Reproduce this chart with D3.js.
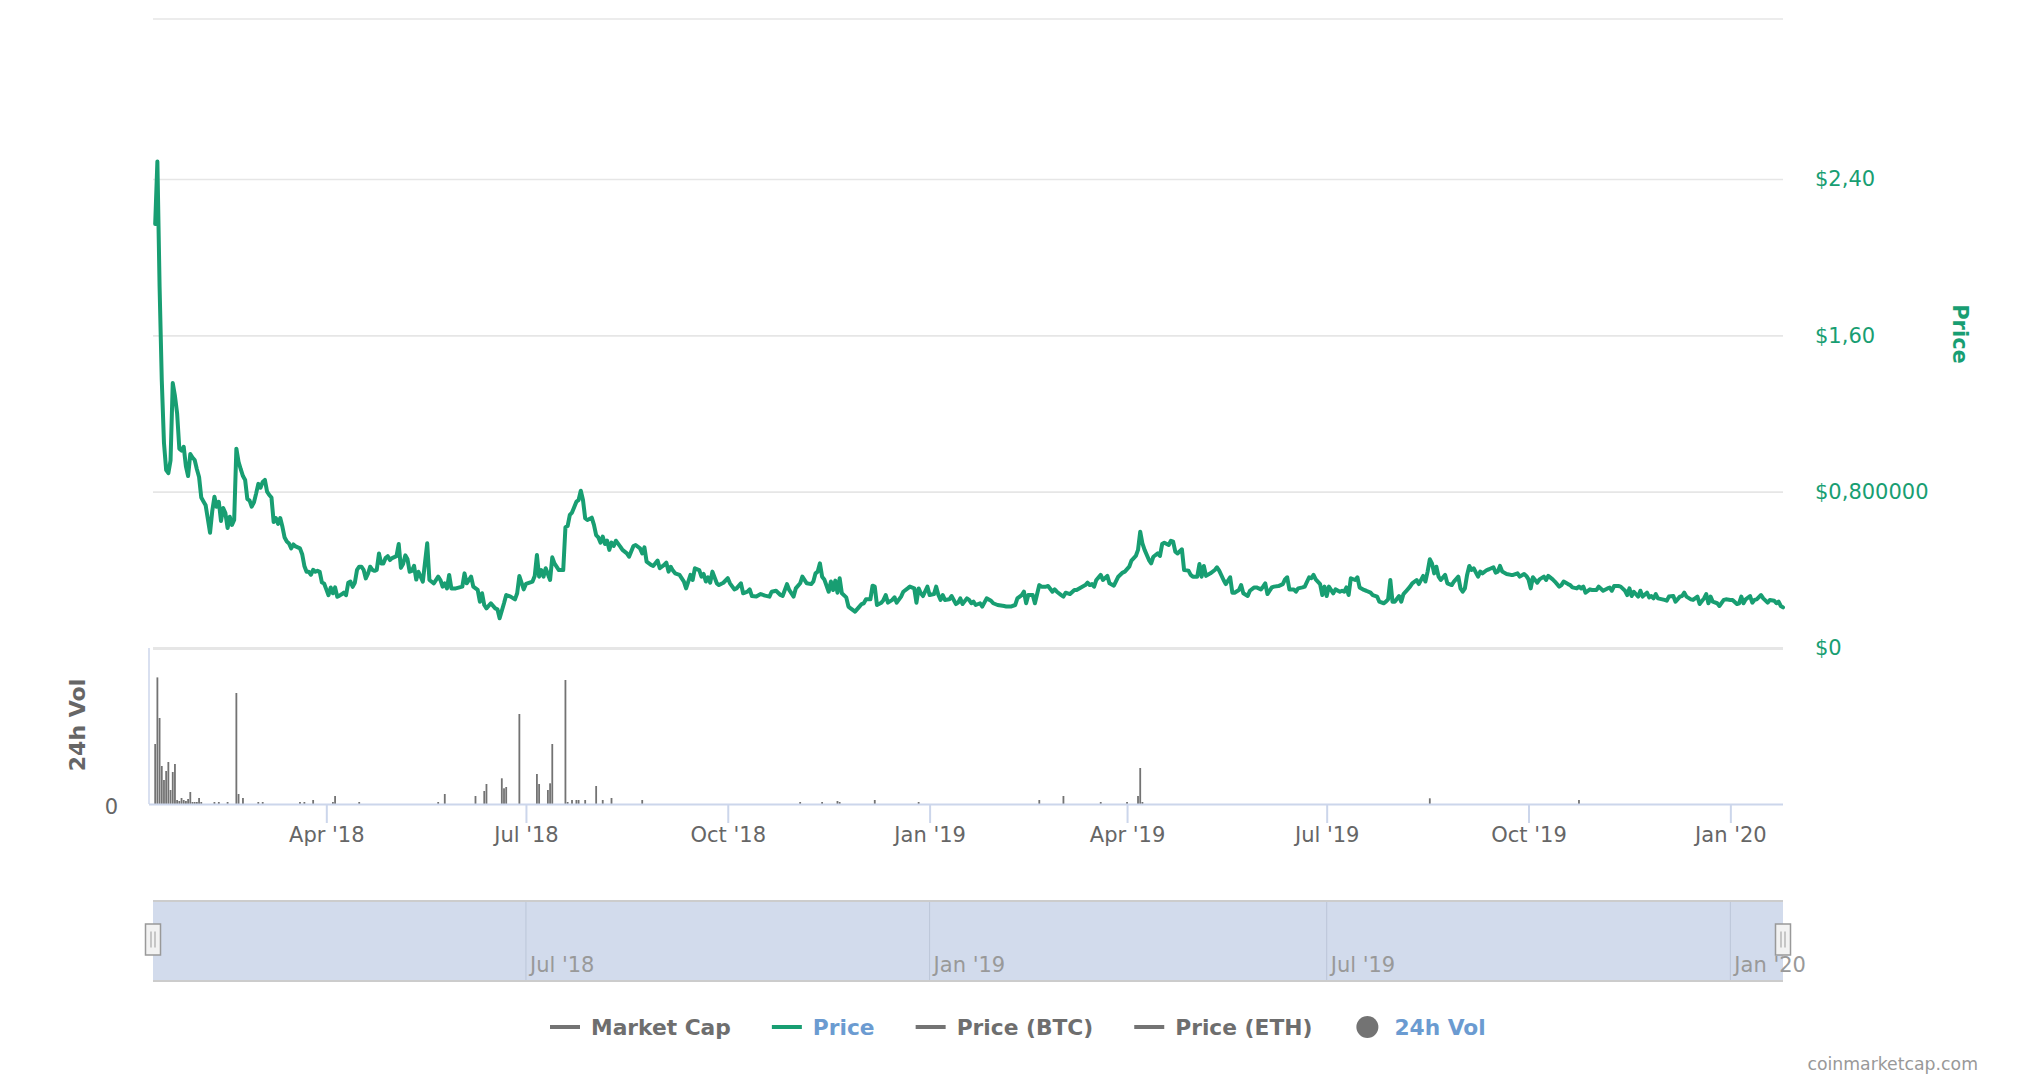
<!DOCTYPE html>
<html><head><meta charset="utf-8">
<script src="https://cdn.jsdelivr.net/npm/d3@7/dist/d3.min.js"></script>
<style>body{margin:0;background:#fff}svg{display:block}</style>
</head><body>
<svg id="c" width="2020" height="1088"></svg>
<script>
// ---------- DATA ----------
const startDate = "2018-01-12";   // day 0 of the series (left edge of the plot)
const endDate = "2020-01-25";     // right edge of the plot
// Price (USD): days since startDate, and price
const priceDay = [1,2,3,4,5,6,7,8,9,10,11,12,13,14,15,16,17,18,19,20,21,22,23,24,25,26,27,28,29,30,31,32,33,34,35,36,37,38,39,40,41,42,43,44,45,46,47,48,49,50,51,52,53,54,55,56,57,58,59,60,61,62,63,64,65,66,67,68,69,70,71,72,73,74,75,76,77,78,79,80,81,82,83,84,85,86,87,88,89,90,91,92,93,94,95,96,97,98,99,100,101,102,103,104,105,106,107,108,109,110,111,112,113,114,115,116,117,118,119,120,121,
123,125,126,128,130,131,132,133,134,135,136,138,141,142,143,145,146,148,149,150,151,152,154,156,157,158,160,161,163,165,166,167,169,170,173,174,175,176,177,178,179,181,182,183,185,187,188,189,190,191,193,194,195,196,197,198,200,201,202,203,204,205,206,207,208,209,210,211,213,214,216,217,219,220,222,223,224,225,227,228,230,231,233,234,235,236,237,238,240,242,243,245,246,247,249,250,251,252,253,254,255,257,258,260,262,263,265,266,268,269,271,272,273,275,
277,279,281,282,284,286,287,289,290,292,293,295,296,298,300,301,302,303,304,305,306,308,309,310,311,312,313,314,316,317,318,320,322,323,324,325,327,328,329,330,332,333,334,335,337,338,339,341,342,344,345,347,348,349,350,351,353,354,356,357,358,359,360,361,363,364,366,367,368,369,371,372,373,374,375,377,378,380,382,383,385,388,389,391,393,394,396,397,398,399,401,402,404,405,407,408,410,411,412,414,415,416,418,420,421,423,425,426,427,428,429,430,
432,433,435,436,438,440,442,443,445,446,448,449,450,451,452,454,455,456,458,459,460,461,463,464,465,466,467,469,470,472,473,474,476,477,478,479,480,482,484,485,486,488,489,491,492,493,495,496,497,499,500,502,503,505,506,507,508,510,511,513,515,516,517,518,520,521,522,524,525,527,528,529,530,532,533,534,535,536,538,539,541,542,543,544,545,546,548,549,550,552,553,555,556,558,559,561,562,563,564,565,566,568,569,570,571,573,574,576,577,579,580,581,
582,583,584,585,586,587,589,590,592,593,595,596,597,598,599,600,601,602,604,605,606,608,609,611,612,613,614,615,617,619,620,622,623,625,626,627,628,629,631,632,634,635,636,638,639,641,642,643,645,646,647,649,650,651,652,653,655,656,658,659,661,663,664,665,666,668,669,671,672,673,674,675,677,678,679,681,682,683,684,685,686,688,689,690,691,693,694,696,697,698,699,701,702,704,705,707,708,709,710,711,713,714,716,717,719,720,722,723,724,725,726,728,729,730,731,733,734,736,737,739,740,741,742,743];
const priceUsd = [2.17,2.49,1.85,1.37,1.05,0.91,0.895,0.96,1.356,1.29,1.2,1.02,1.01,1.03,0.93,0.88,0.993,0.975,0.962,0.915,0.875,0.77,0.75,0.73,0.66,0.59,0.7,0.774,0.723,0.748,0.65,0.716,0.69,0.614,0.672,0.63,0.655,1.02,0.953,0.915,0.88,0.86,0.762,0.755,0.723,0.745,0.79,0.84,0.82,0.85,0.86,0.8,0.783,0.77,0.645,0.665,0.635,0.665,0.62,0.565,0.545,0.535,0.51,0.53,0.52,0.515,0.51,0.48,0.42,0.39,0.39,0.375,0.4,0.39,0.395,0.39,0.335,0.33,0.3,0.27,0.31,0.28,0.31,0.262,0.268,0.275,0.283,0.27,0.334,0.34,0.313,0.334,0.4,0.416,0.416,0.4,0.356,0.38,0.416,0.4,0.395,0.4,0.484,0.433,0.433,0.46,0.47,0.45,0.46,0.465,0.47,0.532,0.41,0.43,0.474,0.455,0.39,0.395,0.42,0.35,0.39,
0.34,0.536,0.348,0.331,0.365,0.348,0.314,0.331,0.305,0.374,0.305,0.305,0.314,0.382,0.331,0.365,0.314,0.297,0.237,0.28,0.22,0.203,0.229,0.203,0.198,0.152,0.229,0.271,0.263,0.249,0.28,0.368,0.3,0.328,0.34,0.368,0.476,0.365,0.399,0.365,0.408,0.348,0.464,0.433,0.399,0.399,0.618,0.624,0.681,0.693,0.749,0.757,0.805,0.757,0.664,0.655,0.667,0.63,0.578,0.566,0.539,0.57,0.532,0.549,0.502,0.539,0.522,0.549,0.519,0.502,0.484,0.467,0.522,0.527,0.51,0.484,0.515,0.442,0.425,0.42,0.447,0.408,0.425,0.437,0.391,0.416,0.396,0.382,0.374,0.34,0.305,0.374,0.348,0.408,0.399,0.365,0.379,0.34,0.362,0.334,0.391,0.331,0.322,0.334,0.357,0.331,0.3,0.305,0.331,0.28,0.288,0.3,0.266,0.263,
0.276,0.268,0.263,0.288,0.293,0.271,0.266,0.327,0.297,0.263,0.305,0.331,0.365,0.331,0.327,0.34,0.382,0.391,0.433,0.365,0.351,0.288,0.34,0.297,0.345,0.283,0.357,0.28,0.259,0.212,0.203,0.186,0.212,0.225,0.229,0.249,0.249,0.319,0.314,0.22,0.232,0.246,0.271,0.232,0.246,0.259,0.232,0.263,0.288,0.305,0.314,0.305,0.232,0.305,0.28,0.266,0.314,0.271,0.276,0.314,0.271,0.246,0.271,0.246,0.249,0.266,0.225,0.232,0.254,0.225,0.254,0.246,0.229,0.237,0.22,0.229,0.212,0.254,0.242,0.229,0.22,0.215,0.212,0.212,0.22,0.254,0.271,0.288,0.229,0.271,0.271,0.229,0.322,0.314,0.314,0.317,0.288,0.3,0.288,0.271,0.263,0.283,0.276,0.297,0.297,0.31,0.322,0.334,0.322,0.327,0.314,0.348,
0.374,0.348,0.369,0.331,0.319,0.365,0.386,0.391,0.416,0.447,0.471,0.502,0.595,0.536,0.502,0.45,0.433,0.467,0.484,0.471,0.532,0.539,0.527,0.549,0.544,0.493,0.484,0.505,0.399,0.396,0.374,0.365,0.365,0.43,0.365,0.42,0.369,0.382,0.399,0.413,0.396,0.348,0.327,0.362,0.283,0.283,0.297,0.322,0.28,0.266,0.293,0.31,0.31,0.3,0.314,0.331,0.276,0.31,0.314,0.317,0.327,0.351,0.362,0.3,0.3,0.288,0.305,0.31,0.314,0.362,0.357,0.374,0.351,0.327,0.271,0.314,0.266,0.314,0.28,0.3,0.288,0.293,0.288,0.31,0.271,0.357,0.348,0.362,0.31,0.297,0.293,0.283,0.271,0.263,0.237,0.229,0.237,0.249,0.348,0.237,0.237,0.266,0.237,0.276,0.288,0.314,0.331,0.348,0.327,0.369,0.34,0.391,
0.454,0.433,0.382,0.416,0.365,0.348,0.374,0.331,0.322,0.34,0.365,0.305,0.288,0.305,0.374,0.42,0.399,0.408,0.365,0.391,0.382,0.399,0.403,0.413,0.386,0.391,0.42,0.391,0.379,0.374,0.374,0.382,0.365,0.379,0.369,0.351,0.305,0.362,0.334,0.351,0.365,0.348,0.369,0.351,0.34,0.314,0.322,0.34,0.327,0.322,0.31,0.305,0.314,0.305,0.314,0.283,0.3,0.297,0.297,0.314,0.293,0.305,0.309,0.293,0.317,0.317,0.314,0.293,0.271,0.305,0.266,0.288,0.263,0.293,0.263,0.283,0.259,0.266,0.254,0.276,0.254,0.249,0.246,0.242,0.263,0.266,0.237,0.263,0.266,0.283,0.263,0.249,0.246,0.263,0.225,0.254,0.276,0.229,0.263,0.237,0.229,0.215,0.246,0.249,0.246,0.246,0.225,0.229,0.263,0.229,0.249,0.266,0.232,0.246,0.249,0.271,0.254,0.232,0.246,0.242,0.229,0.237,0.215,0.208];
// 24h volume (thousand USD): days since startDate, value
const volDay = [1,2,3,4,5,6,7,8,9,10,11,12,13,14,15,16,17,18,19,20,21,22,28,30,34,38,39,41,48,50,67,69,73,82,83,94,130,133,147,151,152,159,160,161,167,175,176,180,181,182,188,189,191,193,194,197,202,205,209,223,295,305,312,313,329,349,404,415,432,444,449,450,451,582,650];
const volK = [600,1266,860,380,240,330,420,140,320,400,40,30,60,40,30,50,120,20,20,20,60,20,20,20,20,1110,100,60,20,20,20,20,40,20,80,20,20,100,80,130,200,257,157,170,900,300,200,140,207,600,1240,20,40,40,40,40,180,40,60,40,20,20,30,20,40,20,40,80,20,20,80,360,20,57,40];
const volAxisMax = 1560;
const priceTicks = [0, 0.8, 1.6, 2.4];
const priceTickLabels = ["$0", "$0,800000", "$1,60", "$2,40"];
const axisTickDates = ["2018-04-01","2018-07-01","2018-10-01","2019-01-01","2019-04-01","2019-07-01","2019-10-01","2020-01-01"];
const navTickDates = ["2018-07-01","2019-01-01","2019-07-01","2020-01-01"];
const legendNames = ["Market Cap","Price","Price (BTC)","Price (ETH)","24h Vol"];
const legendSymbols = ["line","line","line","line","circle"];

// ---------- STYLE ----------
const GREEN = "#189e72", GRAY = "#737373", AXIS = "#ccd6eb", GRID = "#e6e6e6";
const FONT = "'DejaVu Sans', 'Lucida Grande', Arial, sans-serif";
const L = 153, R = 1783;

const svg = d3.select("#c");
const parse = d3.utcParse("%Y-%m-%d");
const t0 = parse(startDate);
const dayToDate = d => new Date(t0.getTime() + d * 864e5);
const x = d3.scaleUtc().domain([t0, parse(endDate)]).range([L, R]);
const yP = d3.scaleLinear().domain([0, 2.4]).range([648, 179]);
const yV = d3.scaleLinear().domain([0, volAxisMax]).range([804, 648]);

// top border of the price pane
svg.append("line").attr("x1", L).attr("x2", R).attr("y1", 19).attr("y2", 19)
  .attr("stroke", GRID).attr("stroke-width", 1.6);

// price grid
const gg = svg.append("g").attr("transform", `translate(${L},0)`)
  .call(d3.axisLeft(yP).tickValues(priceTicks).tickSize(-(R - L)).tickFormat(""));
gg.select(".domain").remove();
gg.selectAll("line").attr("stroke", GRID).attr("stroke-width", d => d === 0 ? 3 : 1.6);

// price axis labels (right)
const ga = svg.append("g").attr("transform", `translate(1815,0)`)
  .call(d3.axisRight(yP).tickValues(priceTicks).tickSize(0).tickPadding(0)
    .tickFormat((d, i) => priceTickLabels[i]));
ga.select(".domain").remove();
ga.selectAll("text").attr("fill", GREEN).style("font-family", FONT).style("font-size", "21px");

// volume bars
const vols = volDay.map((d, i) => ({ date: dayToDate(d), v: volK[i] }));
svg.append("g").selectAll("rect").data(vols).join("rect")
  .attr("x", d => x(d.date) - 0.9).attr("width", 1.8)
  .attr("y", d => yV(d.v)).attr("height", d => yV(0) - yV(d.v))
  .attr("fill", GRAY);

// volume pane left axis line
svg.append("line").attr("x1", 149).attr("x2", 149).attr("y1", 648).attr("y2", 804)
  .attr("stroke", AXIS).attr("stroke-width", 1.5);

// x axis
const gx = svg.append("g").attr("transform", "translate(0,804)")
  .call(d3.axisBottom(x).tickValues(axisTickDates.map(parse))
    .tickFormat(d3.utcFormat("%b '%y")).tickSize(19).tickPadding(4));
gx.select(".domain").remove();
gx.selectAll("line").attr("stroke", AXIS).attr("stroke-width", 2);
gx.selectAll("text").attr("fill", "#666").style("font-family", FONT).style("font-size", "21px");
svg.append("line").attr("x1", 149).attr("x2", R).attr("y1", 804.5).attr("y2", 804.5)
  .attr("stroke", AXIS).attr("stroke-width", 2);

// volume axis "0" label
const gvl = svg.append("g").attr("transform", "translate(118,3)")
  .call(d3.axisLeft(yV).tickValues([0]).tickSize(0).tickPadding(0));
gvl.select(".domain").remove();
gvl.selectAll("text").attr("fill", "#666").style("font-family", FONT).style("font-size", "21px");

// price line
const prices = priceDay.map((d, i) => ({ date: dayToDate(d), p: priceUsd[i] }));
svg.append("path").datum(prices)
  .attr("d", d3.line().x(d => x(d.date)).y(d => yP(d.p)))
  .attr("fill", "none").attr("stroke", GREEN).attr("stroke-width", 4)
  .attr("stroke-linejoin", "round").attr("stroke-linecap", "round");

// axis titles
svg.append("text").attr("transform", "translate(1960,334) rotate(90)")
  .attr("text-anchor", "middle").attr("dy", "0.35em")
  .style("font-family", FONT).style("font-size", "21px").style("font-weight", "bold")
  .attr("fill", GREEN).text("Price");
svg.append("text").attr("transform", "translate(77,725) rotate(-90)")
  .attr("text-anchor", "middle").attr("dy", "0.35em")
  .style("font-family", FONT).style("font-size", "22px").style("font-weight", "bold")
  .attr("fill", "#666").text("24h Vol");

// navigator
const nav = svg.append("g");
nav.append("rect").attr("x", L).attr("y", 901).attr("width", R - L).attr("height", 80)
  .attr("fill", "#d2dbec");
nav.selectAll("line.ng").data(navTickDates.map(parse)).join("line").attr("class", "ng")
  .attr("x1", d => x(d)).attr("x2", d => x(d)).attr("y1", 901).attr("y2", 981)
  .attr("stroke", "#bcc6d8").attr("stroke-width", 1);
nav.selectAll("text").data(navTickDates.map(parse)).join("text")
  .attr("x", d => x(d) + 4).attr("y", 972)
  .style("font-family", FONT).style("font-size", "21px").attr("fill", "#999")
  .text(d3.utcFormat("%b '%y"));
[901, 981].forEach(yy => nav.append("line").attr("x1", L).attr("x2", R)
  .attr("y1", yy).attr("y2", yy).attr("stroke", "#cccccc").attr("stroke-width", 2));
[L, R].forEach(hx => {
  const h = nav.append("g").attr("transform", `translate(${hx},939.5)`);
  h.append("rect").attr("x", -7.5).attr("y", -15.5).attr("width", 15).attr("height", 31)
    .attr("fill", "#f2f2f2").attr("stroke", "#999").attr("stroke-width", 1.5);
  [-2, 2].forEach(o => h.append("line").attr("x1", o).attr("x2", o).attr("y1", -8).attr("y2", 8)
    .attr("stroke", "#999").attr("stroke-width", 1));
});

// legend
const legendColors = ["#737373", GREEN, "#737373", "#737373", "#737373"];
const legendTextColors = ["#6e6e6e", "#6b9bd1", "#6e6e6e", "#6e6e6e", "#6b9bd1"];
const lg = svg.append("g");
let lx = 550;
legendNames.forEach((name, i) => {
  const g = lg.append("g").attr("transform", `translate(${lx},1027)`);
  if (legendSymbols[i] === "line") {
    g.append("line").attr("x1", 0).attr("x2", 30).attr("y1", 0).attr("y2", 0)
      .attr("stroke", legendColors[i]).attr("stroke-width", 4);
  } else {
    g.append("circle").attr("cx", 14).attr("cy", 0).attr("r", 11).attr("fill", legendColors[i]);
  }
  const t = g.append("text").attr("x", 41).attr("dy", "0.35em")
    .style("font-family", FONT).style("font-size", "21.75px").style("font-weight", "bold")
    .attr("fill", legendTextColors[i]).text(name);
  lx += 41 + t.node().getComputedTextLength() + 41;
});

// credit
svg.append("text").attr("x", 1978).attr("y", 1070).attr("text-anchor", "end")
  .style("font-family", FONT).style("font-size", "17.3px").attr("fill", "#999")
  .text("coinmarketcap.com");
</script>
</body></html>
